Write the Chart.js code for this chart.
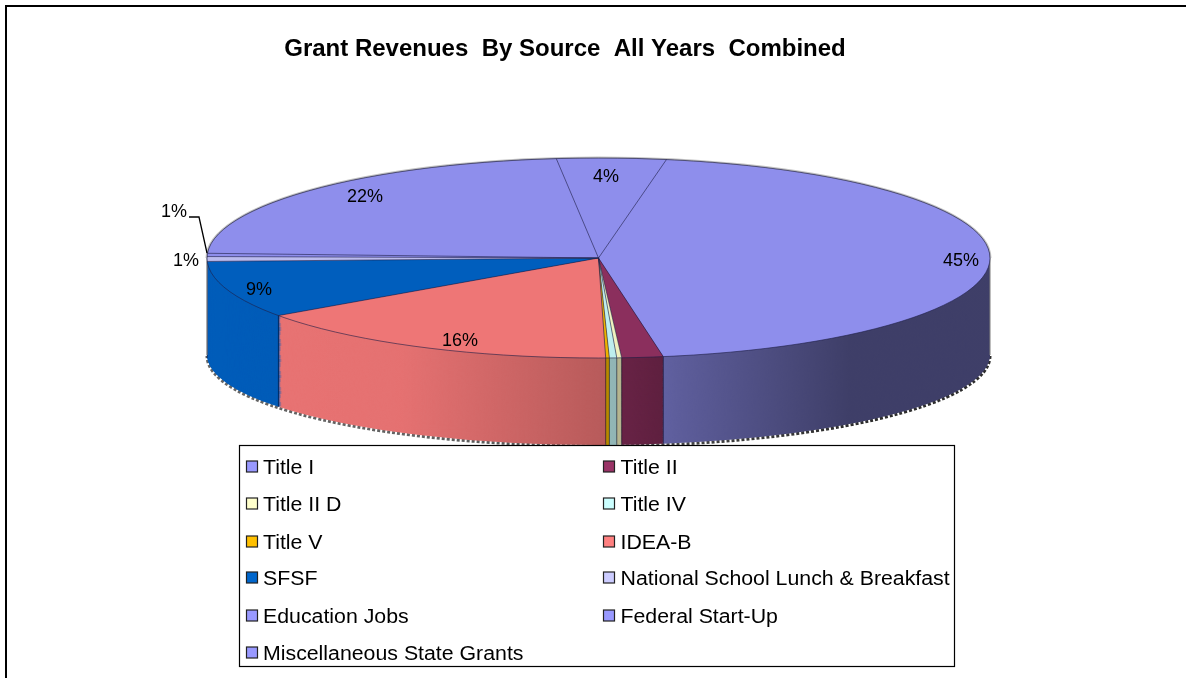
<!DOCTYPE html>
<html><head><meta charset="utf-8">
<style>html,body{margin:0;padding:0;background:#fff}canvas{display:block}
#frame{position:absolute;left:5px;top:5px;right:-10px;height:690px;border:2px solid #000;box-sizing:border-box;pointer-events:none}
body{width:1186px;height:678px;overflow:hidden;position:relative}</style>
<script src="https://cdn.jsdelivr.net/npm/chart.js@4/dist/chart.umd.min.js"></script>
</head><body>
<div style="position:relative;width:1186px;height:678px"><canvas id="c" width="1186" height="678"></canvas></div>
<div id="frame"></div>
<script>
const categories = ['Title I','Title II','Title II D','Title IV','Title V','IDEA-B','SFSF','National School Lunch & Breakfast','Education Jobs','Federal Start-Up','Miscellaneous State Grants'];
const shares = [44.5,1.7,0.2,0.3,0.15,15.5,9.2,0.78,0.52,22.49,4.49];
const printedLabels = ['45%',null,null,null,null,'16%','9%','1%','1%','22%','4%'];
const faceColors = ['#8E8EEC','#8B2F5D','#F0F0BE','#BEEEEE','#EDB200','#EE7676','#005EBD','#BBBBEE','#8E8EEC','#8E8EEC','#8E8EEC'];
const legendColors = ['#9999FF','#993366','#FFFFCC','#CCFFFF','#FFC000','#FF8080','#0066CC','#CCCCFF','#9999FF','#9999FF','#9999FF'];
const labelSpots = [[961,261],null,null,null,null,[460,341],[259,290],[186,261],[174,212],[365,197],[606,177]];
const TOP = {x:598.5,y:258,rx:391.5,ry:100};
const BASE = {y:355,ry:90};
const FONT = '"Liberation Sans", Arial, sans-serif';

function place(ctx,arc,y,ry){
  const s = arc.outerRadius;
  ctx.translate(TOP.x,y);
  ctx.scale(TOP.rx/s,ry/s);
  ctx.translate(-arc.x,-arc.y);
}
const pie3d = {
  id:'pie3d',
  beforeDatasetDraw(chart){
    const ctx = chart.ctx, arcs = chart.getDatasetMeta(0).data;
    const steps = BASE.y-TOP.y;
    // shadow grain on the lower rim
    ctx.save();
    ctx.strokeStyle='#666';ctx.lineWidth=3;ctx.setLineDash([3,2]);
    ctx.beginPath();ctx.ellipse(TOP.x,BASE.y+1,TOP.rx,BASE.ry,0,0,Math.PI);ctx.stroke();
    ctx.restore();
    // wall: the library's arcs repeated from the base upwards
    for(let i=steps;i>=0;i--){
      const t=i/steps;
      arcs.forEach(a=>{ctx.save();place(ctx,a,TOP.y+t*steps,TOP.ry+t*(BASE.ry-TOP.ry));a.draw(ctx);ctx.restore();});
    }
    // wall shading, only over what has been painted
    ctx.save();
    ctx.globalCompositeOperation='source-atop';
    const g=ctx.createLinearGradient(TOP.x-TOP.rx,0,TOP.x+TOP.rx,0);
    g.addColorStop(0,'rgba(0,0,0,0.02)');
    g.addColorStop(0.25,'rgba(0,0,0,0.04)');
    g.addColorStop(0.52,'rgba(0,0,0,0.24)');
    g.addColorStop(0.6,'rgba(0,0,0,0.34)');
    g.addColorStop(0.82,'rgba(0,0,0,0.56)');
    g.addColorStop(1,'rgba(0,0,0,0.56)');
    ctx.fillStyle=g;
    ctx.fillRect(0,TOP.y,chart.width,chart.height-TOP.y);
    ctx.restore();
    // wall dividers and side edges
    ctx.save();
    ctx.strokeStyle='rgba(0,0,30,0.55)';ctx.lineWidth=1;
    arcs.forEach(a=>{
      const e=a.endAngle,c=Math.cos(e),s=Math.sin(e);
      if(s>0){ctx.beginPath();ctx.moveTo(TOP.x+c*TOP.rx,TOP.y+s*TOP.ry);ctx.lineTo(TOP.x+c*TOP.rx,BASE.y+s*BASE.ry);ctx.stroke();}
    });
    ctx.strokeStyle='rgba(130,130,130,0.7)';ctx.lineWidth=1.5;
    [-1,1].forEach(d=>{ctx.beginPath();ctx.moveTo(TOP.x+d*TOP.rx,TOP.y);ctx.lineTo(TOP.x+d*TOP.rx,BASE.y);ctx.stroke();});
    ctx.restore();
    // top face
    arcs.forEach(a=>{ctx.save();place(ctx,a,TOP.y,TOP.ry);a.draw(ctx);ctx.restore();});
    // rim and spokes
    ctx.save();
    ctx.strokeStyle='rgba(120,120,120,0.45)';ctx.lineWidth=2;
    ctx.beginPath();ctx.ellipse(TOP.x,TOP.y,TOP.rx+0.5,TOP.ry+0.5,0,Math.PI,Math.PI*2);ctx.stroke();
    ctx.strokeStyle='rgba(30,30,70,0.6)';ctx.lineWidth=1;
    ctx.beginPath();ctx.ellipse(TOP.x,TOP.y,TOP.rx,TOP.ry,0,0,Math.PI*2);ctx.stroke();
    arcs.forEach(a=>{
      const e=a.endAngle;
      ctx.beginPath();ctx.moveTo(TOP.x,TOP.y);ctx.lineTo(TOP.x+Math.cos(e)*TOP.rx,TOP.y+Math.sin(e)*TOP.ry);ctx.stroke();
    });
    ctx.restore();
    return false;
  },
  afterDraw(chart){
    const ctx=chart.ctx;
    ctx.save();
    ctx.fillStyle='#000';ctx.textAlign='center';ctx.textBaseline='middle';ctx.font='18px '+FONT;
    printedLabels.forEach((t,i)=>{if(t)ctx.fillText(t,labelSpots[i][0],labelSpots[i][1]);});
    // leader for the upper 1%
    ctx.strokeStyle='#000';ctx.lineWidth=1.3;ctx.beginPath();ctx.moveTo(189,217);ctx.lineTo(199,217);ctx.lineTo(207,253);ctx.stroke();
    // legend box
    const L={x:239.5,y:445.5,w:715,h:221};
    ctx.fillStyle='#fff';ctx.fillRect(L.x,L.y,L.w,L.h);
    ctx.save();ctx.beginPath();ctx.rect(L.x,L.y,L.w,L.h);ctx.clip();
    const rows=[467,504,542,578,616,653];
    const stretch=1.065;
    ctx.textAlign='left';ctx.font='20px '+FONT;
    categories.forEach((c,i)=>{
      const col=i%2,row=(i-col)/2,y=rows[row];
      const sx=col?603.5:246.5,tx=col?620.5:263;
      ctx.fillStyle=legendColors[i];ctx.fillRect(sx,y-6,11,11);
      ctx.strokeStyle='#222';ctx.lineWidth=1.2;ctx.strokeRect(sx,y-6,11,11);
      ctx.fillStyle='#000';
      ctx.save();ctx.translate(tx,y+1);ctx.scale(stretch,1);ctx.fillText(c,0,0);ctx.restore();
    });
    ctx.restore();
    ctx.strokeStyle='#000';ctx.lineWidth=1.2;ctx.strokeRect(L.x,L.y,L.w,L.h);
    ctx.restore();
  }
};
new Chart(document.getElementById('c'),{
  type:'pie',
  data:{labels:categories,datasets:[{data:shares,backgroundColor:faceColors,borderWidth:0}]},
  options:{
    responsive:false,animation:false,rotation:10,
    layout:{padding:{left:0,right:56,top:35,bottom:100}},
    plugins:{
      legend:{display:false},tooltip:{enabled:false},
      title:{display:true,text:'Grant Revenues  By Source  All Years  Combined',color:'#000',font:{family:FONT,size:24,weight:'bold'},padding:{top:0,bottom:10}}
    }
  },
  plugins:[pie3d]
});
</script>
</body></html>
